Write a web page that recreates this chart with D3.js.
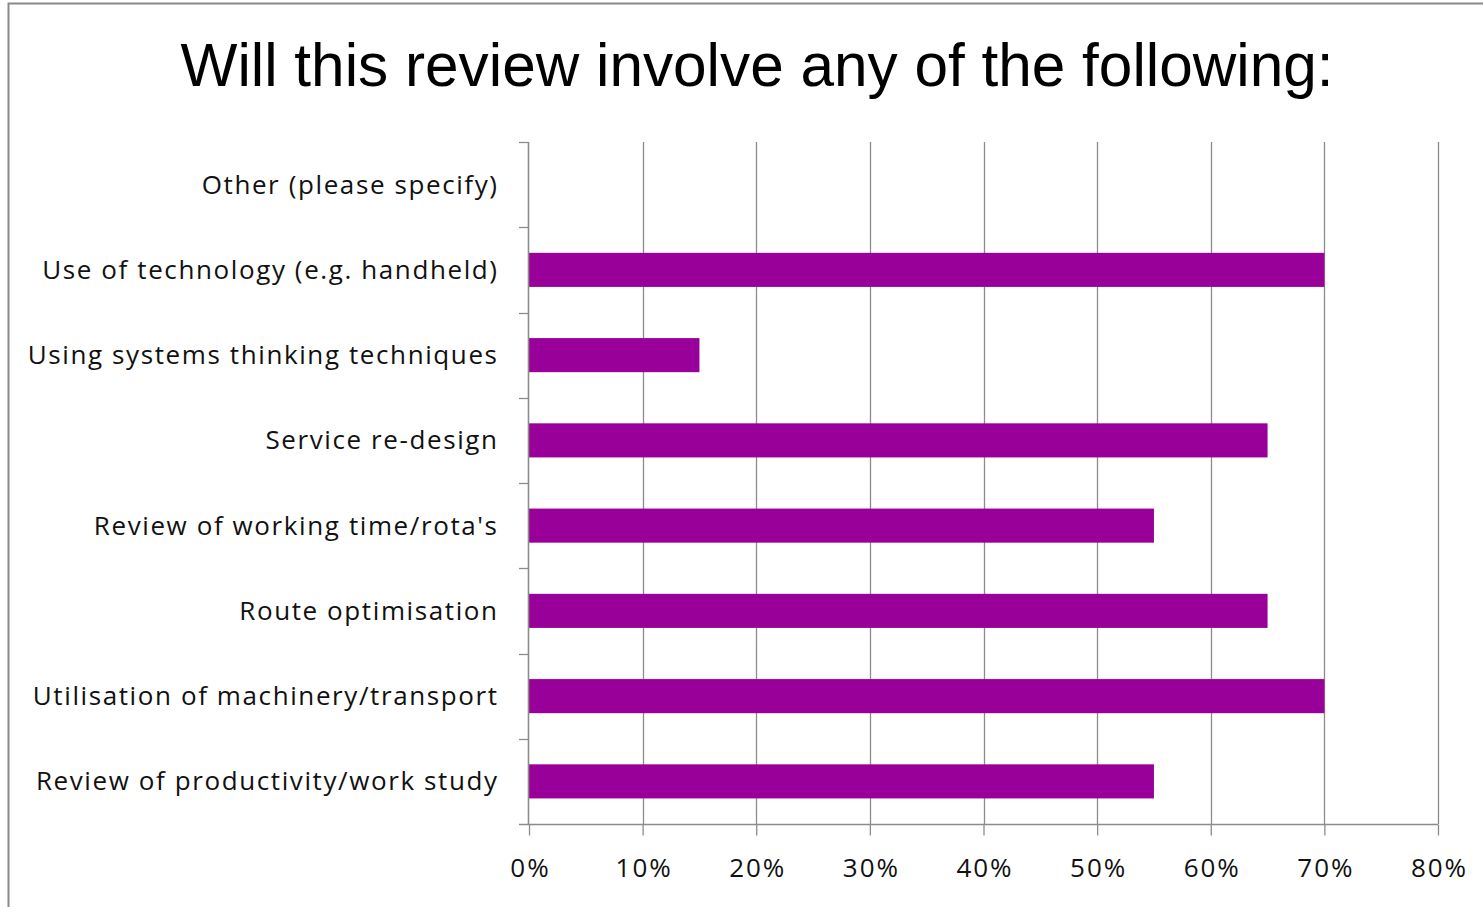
<!DOCTYPE html>
<html>
<head>
<meta charset="utf-8">
<script src="https://cdn.jsdelivr.net/npm/d3@7"></script>
<style>
  html, body { margin: 0; padding: 0; background: #fff; }
  svg { display: block; }
</style>
</head>
<body>
<svg id="chart" width="1483" height="907"></svg>
<script>
// Survey responses, listed bottom to top as they appear on the chart
const categories = [
  "Review of productivity/work study",
  "Utilisation of machinery/transport",
  "Route optimisation",
  "Review of working time/rota's",
  "Service re-design",
  "Using systems thinking techniques",
  "Use of technology (e.g. handheld)",
  "Other (please specify)"
];
const shares = [0.55, 0.70, 0.65, 0.55, 0.65, 0.15, 0.70, 0.00];
const xTicks = [0, 0.1, 0.2, 0.3, 0.4, 0.5, 0.6, 0.7, 0.8];
const title = "Will this review involve any of the following:";

const svg = d3.select("#chart");
const W = 1483, H = 907;
const plot = { left: 529, right: 1438, top: 142, bottom: 824 };
const gridColor = "#8c8c8c";
const labelFont = "'Open Sans', Lato, sans-serif";
const spacing = 1.6;

// Outer frame (only top and left edges fall inside the canvas)
svg.append("path")
  .attr("d", `M8.5,${H} V3.5 H${W}`)
  .attr("fill", "none")
  .attr("stroke", "#8a8a8a")
  .attr("stroke-width", 2);

svg.append("text")
  .attr("x", 757)
  .attr("y", 86)
  .attr("text-anchor", "middle")
  .attr("font-family", "'Liberation Sans', Arial, sans-serif")
  .attr("font-size", 62)
  .attr("textLength", 1153)
  .attr("lengthAdjust", "spacingAndGlyphs")
  .attr("fill", "#000")
  .text(title);

const x = d3.scaleLinear().domain([0, 0.8]).range([plot.left, plot.right]);
const y = d3.scaleBand()
  .domain(categories.slice().reverse())
  .range([plot.top, plot.bottom])
  .paddingInner(0.6)
  .paddingOuter(0.3);
const yEdges = d3.scaleLinear().domain([0, categories.length]).range([plot.top, plot.bottom]);

// Vertical gridlines
svg.append("g")
  .selectAll("line")
  .data(xTicks.slice(1))
  .join("line")
  .attr("x1", d => Math.round(x(d)) + 0.5)
  .attr("x2", d => Math.round(x(d)) + 0.5)
  .attr("y1", plot.top)
  .attr("y2", plot.bottom)
  .attr("stroke", gridColor)
  .attr("stroke-width", 1.3);

// Bars
svg.append("g")
  .selectAll("rect")
  .data(categories.map((c, i) => ({ c, v: shares[i] })))
  .join("rect")
  .attr("x", x(0))
  .attr("y", d => y(d.c))
  .attr("width", d => x(d.v) - x(0))
  .attr("height", y.bandwidth())
  .attr("fill", "#990099");

// X axis
const xAxis = svg.append("g")
  .attr("transform", `translate(0,${plot.bottom + 0.5})`)
  .call(d3.axisBottom(x).tickValues(xTicks).tickFormat(d3.format(".0%")).tickSize(11).tickPadding(23).tickSizeOuter(0));
xAxis.select(".domain").attr("stroke", gridColor).attr("stroke-width", 1.6)
  .attr("d", `M${plot.left - 10},0H${plot.right}`);
xAxis.selectAll(".tick line").attr("stroke", gridColor).attr("stroke-width", 1.3);
xAxis.selectAll(".tick text")
  .attr("font-family", labelFont)
  .attr("font-size", 26)
  .attr("letter-spacing", 2)
  .attr("dx", 1)
  .attr("fill", "#111");

// Y axis line with category separators
const yAxis = svg.append("g");
yAxis.append("line")
  .attr("x1", plot.left - 0.5).attr("x2", plot.left - 0.5)
  .attr("y1", plot.top).attr("y2", plot.bottom)
  .attr("stroke", gridColor).attr("stroke-width", 1.6);
yAxis.selectAll("line.sep")
  .data(d3.range(categories.length))
  .join("line")
  .attr("class", "sep")
  .attr("x1", plot.left - 10).attr("x2", plot.left)
  .attr("y1", d => Math.round(yEdges(d)) + 0.5)
  .attr("y2", d => Math.round(yEdges(d)) + 0.5)
  .attr("stroke", gridColor).attr("stroke-width", 1.3);
yAxis.selectAll("text")
  .data(categories)
  .join("text")
  .attr("x", 497 + spacing)
  .attr("y", d => y(d) + y.bandwidth() / 2)
  .attr("dy", "0.35em")
  .attr("text-anchor", "end")
  .attr("font-family", labelFont)
  .attr("font-size", 26)
  .attr("letter-spacing", spacing)
  .attr("fill", "#111")
  .text(d => d);
</script>
</body>
</html>
